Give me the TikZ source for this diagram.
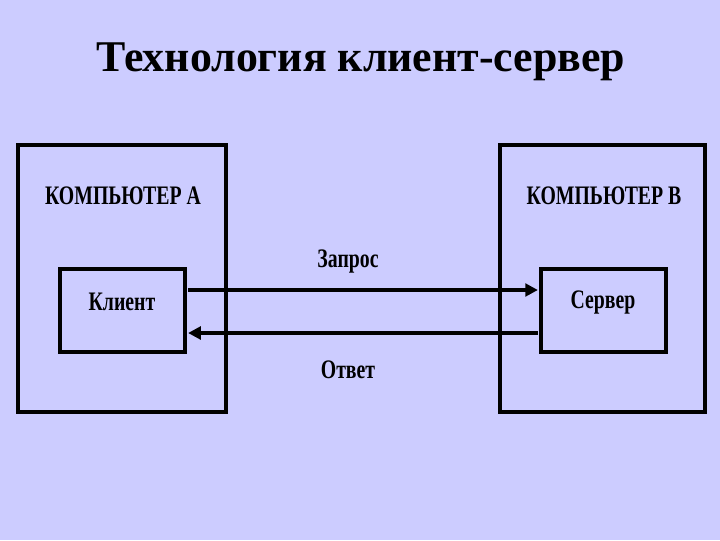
\documentclass[tikz,border=0pt]{standalone}
\usepackage{fontspec}
\setmainfont{Liberation Serif}
\newfontfamily\lblfont[FakeStretch=0.74]{Liberation Serif}
\usetikzlibrary{arrows.meta}
\definecolor{bgcol}{HTML}{CCCCFF}
\tikzset{
  outerbox/.style={draw=black,line width=2.2pt},
  innerbox/.style={draw=black,line width=2.2pt},
  lbl/.style={font=\lblfont\bfseries\fontsize{19}{21}\selectfont,text=black},
  conn/.style={line width=3.4pt,-{Triangle[length=9pt,width=9pt]}},
}
\begin{document}
\begin{tikzpicture}[x=0.025cm,y=-0.025cm]
\fill[bgcol] (0,0) rectangle (720,540);
\useasboundingbox (0,0) rectangle (720,540);
\node[font=\bfseries\fontsize{31.2}{36}\selectfont] (title) at (361,62) {Технология клиент-сервер};
% computers
\draw[outerbox] (18,145) rectangle (226,412);
\draw[outerbox] (500,145) rectangle (705,412);
\node[lbl] (compA) at (123,196) {КОМПЬЮТЕР А};
\node[lbl] (compB) at (604,196) {КОМПЬЮТЕР В};
% inner boxes
\node[innerbox,minimum width=125*0.025cm,minimum height=83*0.025cm,inner sep=0pt] (client) at (122.5,310.5) {};
\node[innerbox,minimum width=125*0.025cm,minimum height=83*0.025cm,inner sep=0pt] (server) at (603.5,310.5) {};
\node[lbl] at (122,302) {Клиент};
\node[lbl] at (603,302) {Сервер};
% connectors
\coordinate (c1) at (client.east |- 0,290);
\coordinate (s1) at (server.west |- 0,290);
\coordinate (c2) at (client.east |- 0,333);
\coordinate (s2) at (server.west |- 0,333);
\draw[conn] ([xshift=1.1pt]c1) -- ([xshift=-1.1pt]s1);
\draw[conn] ([xshift=-1.1pt]s2) -- ([xshift=1.1pt]c2);
\node[lbl] (req) at (348,261) {Запрос};
\node[lbl] (resp) at (348,370) {Ответ};
\end{tikzpicture}
\end{document}
